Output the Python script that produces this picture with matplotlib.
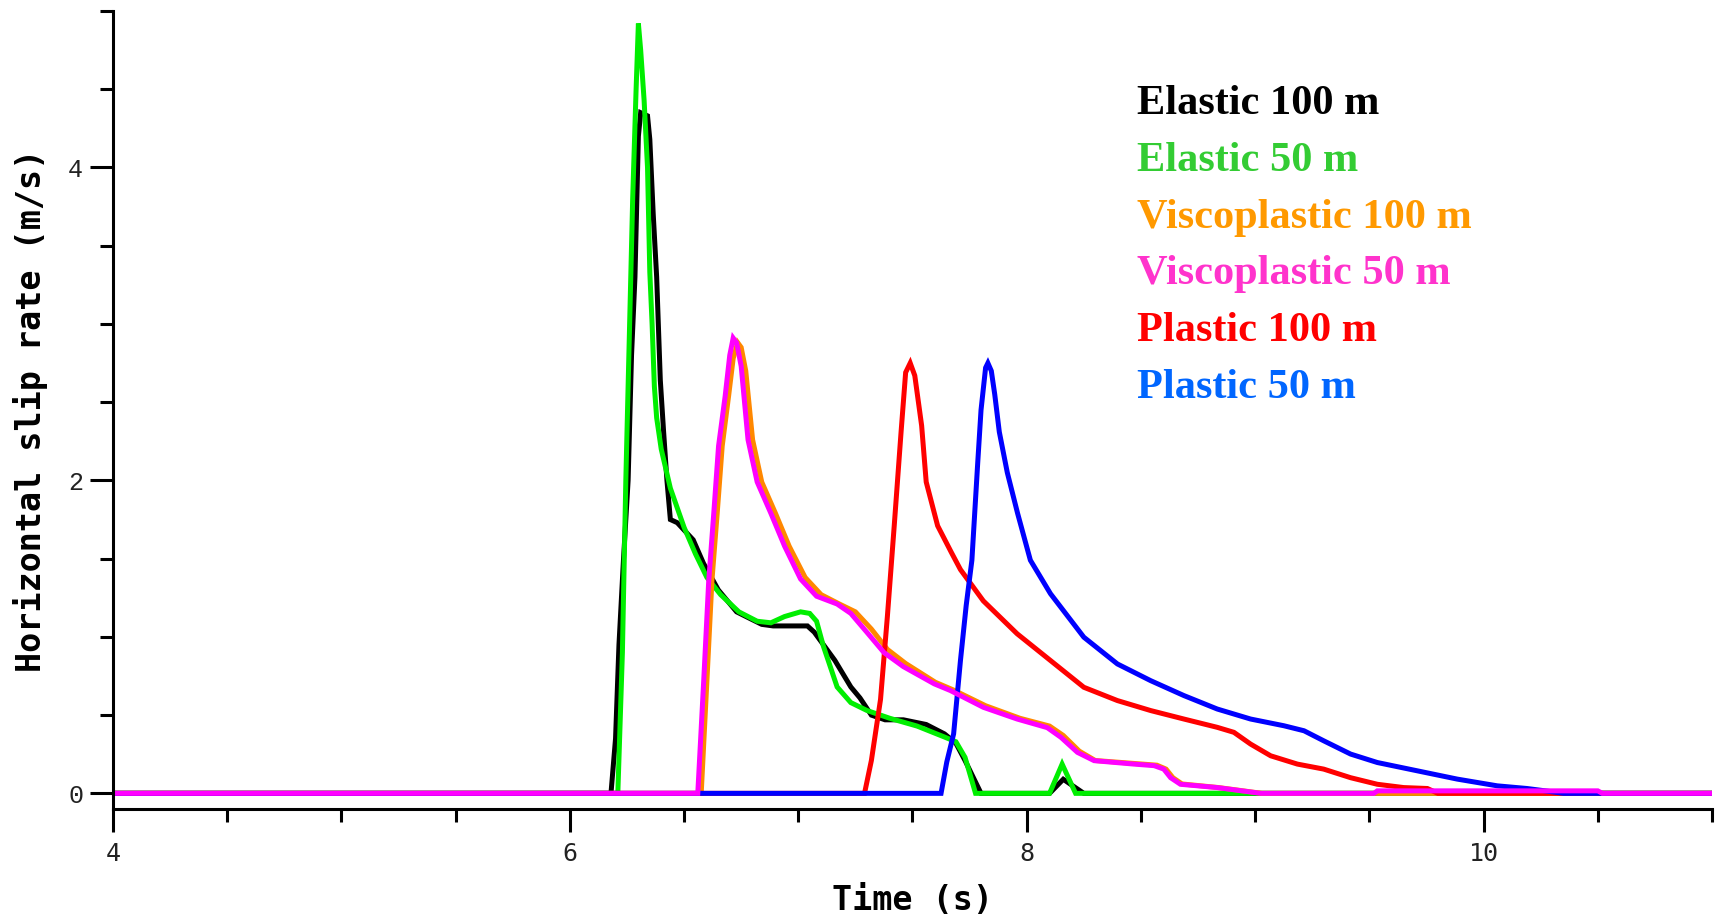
import matplotlib.pyplot as plt
from matplotlib.ticker import MultipleLocator

# slip-rate histories at the receiver, one (time, rate) pair per model
t_el100 = [4.0, 6.18, 6.20, 6.215, 6.235, 6.255, 6.27, 6.285, 6.30, 6.31, 6.34, 6.35, 6.365,
           6.38, 6.396, 6.41, 6.425, 6.44, 6.47, 6.54, 6.585, 6.65, 6.73, 6.84, 6.89, 7.04,
           7.07, 7.16, 7.23, 7.27, 7.32, 7.38, 7.46, 7.56, 7.64, 7.69, 7.73, 7.80, 8.10,
           8.16, 8.25, 11.0]
v_el100 = [0, 0, 0.35, 0.95, 1.5, 2.0, 2.8, 3.3, 4.2, 4.35, 4.33, 4.18, 3.7,
           3.3, 2.64, 2.32, 2.0, 1.75, 1.73, 1.62, 1.47, 1.30, 1.16, 1.08, 1.07, 1.07,
           1.03, 0.85, 0.68, 0.61, 0.50, 0.47, 0.47, 0.44, 0.38, 0.32, 0.21, 0, 0,
           0.09, 0, 0]

t_el50 = [4.0, 6.21, 6.23, 6.245, 6.26, 6.275, 6.29, 6.30, 6.31, 6.325, 6.34, 6.35, 6.36,
          6.37, 6.38, 6.40, 6.44, 6.50, 6.55, 6.60, 6.66, 6.74, 6.82, 6.88, 6.94, 7.01,
          7.05, 7.08, 7.11, 7.17, 7.23, 7.30, 7.40, 7.52, 7.64, 7.69, 7.73, 7.776, 8.10,
          8.155, 8.214, 11.0]
v_el50 = [0, 0, 0.9, 2.0, 2.9, 3.8, 4.5, 4.92, 4.75, 4.43, 4.0, 3.33, 3.0,
          2.6, 2.4, 2.2, 1.95, 1.70, 1.53, 1.38, 1.27, 1.16, 1.10, 1.09, 1.13, 1.16,
          1.15, 1.10, 0.94, 0.68, 0.58, 0.53, 0.48, 0.43, 0.36, 0.33, 0.23, 0, 0,
          0.187, 0, 0]

t_vp100 = [4.0, 6.575, 6.60, 6.622, 6.645, 6.667, 6.695, 6.715, 6.735, 6.75, 6.77, 6.80,
           6.84, 6.90, 6.96, 7.03, 7.10, 7.18, 7.25, 7.32, 7.39, 7.47, 7.60, 7.68, 7.82,
           7.97, 8.10, 8.16, 8.23, 8.30, 8.48, 8.57, 8.61, 8.64, 8.68, 8.84, 9.03, 11.0]
v_vp100 = [0, 0, 0.72, 1.36, 1.79, 2.22, 2.54, 2.78, 2.88, 2.85, 2.70, 2.26,
           1.99, 1.79, 1.58, 1.38, 1.27, 1.21, 1.16, 1.05, 0.92, 0.83, 0.71, 0.66, 0.56,
           0.48, 0.43, 0.37, 0.27, 0.21, 0.19, 0.18, 0.155, 0.10, 0.06, 0.037, 0, 0]

t_vp50 = [4.0, 6.56, 6.586, 6.608, 6.63, 6.651, 6.68, 6.70, 6.715, 6.73, 6.75, 6.78,
          6.82, 6.88, 6.94, 7.01, 7.08, 7.17, 7.23, 7.30, 7.375, 7.46, 7.595, 7.666, 7.81,
          7.958, 8.09, 8.15, 8.222, 8.295, 8.47, 8.558, 8.60, 8.63, 8.673, 8.834, 9.025,
          9.52, 9.535, 10.5, 10.52, 11.0]
v_vp50 = [0, 0, 0.72, 1.36, 1.79, 2.22, 2.54, 2.80, 2.91, 2.88, 2.73, 2.26,
          1.99, 1.79, 1.58, 1.37, 1.26, 1.21, 1.15, 1.03, 0.90, 0.81, 0.70, 0.657, 0.55,
          0.475, 0.42, 0.358, 0.262, 0.209, 0.187, 0.177, 0.155, 0.10, 0.058, 0.037, 0,
          0, 0.016, 0.016, 0, 0]

t_pl100 = [4.0, 7.29, 7.32, 7.36, 7.39, 7.42, 7.45, 7.47, 7.49, 7.51, 7.54, 7.56, 7.61,
           7.67, 7.71, 7.81, 7.958, 8.104, 8.25, 8.397, 8.543, 8.688, 8.834, 8.907, 8.98,
           9.068, 9.185, 9.30, 9.418, 9.535, 9.65, 9.754, 9.80, 11.0]
v_pl100 = [0, 0, 0.21, 0.60, 1.13, 1.71, 2.31, 2.69, 2.75, 2.67, 2.35, 1.99, 1.71,
           1.54, 1.43, 1.23, 1.02, 0.849, 0.678, 0.593, 0.529, 0.475, 0.422, 0.39, 0.315,
           0.24, 0.187, 0.155, 0.10, 0.058, 0.037, 0.031, 0, 0]

t_pl50 = [4.0, 7.625, 7.65, 7.68, 7.71, 7.735, 7.76, 7.785, 7.80, 7.82, 7.83, 7.845, 7.86,
          7.88, 7.915, 7.96, 8.016, 8.104, 8.25, 8.397, 8.543, 8.688, 8.834, 8.98, 9.126,
          9.214, 9.30, 9.418, 9.535, 9.71, 9.885, 10.06, 10.19, 10.27, 10.35, 11.0]
v_pl50 = [0, 0, 0.2, 0.38, 0.85, 1.2, 1.49, 2.1, 2.45, 2.72, 2.75, 2.70, 2.55,
          2.31, 2.05, 1.79, 1.49, 1.276, 0.998, 0.827, 0.72, 0.625, 0.539, 0.475, 0.432,
          0.40, 0.336, 0.251, 0.197, 0.144, 0.091, 0.048, 0.031, 0.016, 0, 0]

labels = ["Elastic 100 m", "Elastic 50 m", "Viscoplastic 100 m",
          "Viscoplastic 50 m", "Plastic 100 m", "Plastic 50 m"]
line_colors = ["#000000", "#00ee00", "#ff8800", "#ff00ff", "#ff0000", "#0000ff"]
text_colors = ["#000000", "#33cc33", "#ff9900", "#ff33cc", "#ff0000", "#0066ff"]

fig = plt.figure(figsize=(17.21, 9.18), dpi=100)
ax = fig.add_axes([113 / 1721, 1 - 809 / 918, 1599 / 1721, 798 / 918])

series = [(t_el100, v_el100), (t_el50, v_el50), (t_vp100, v_vp100),
          (t_vp50, v_vp50), (t_pl100, v_pl100), (t_pl50, v_pl50)]
# magenta last so it sits on top of the shared zero baseline
order = [0, 1, 2, 4, 5, 3]
for i in order:
    t, v = series[i]
    ax.plot(t, v, color=line_colors[i], lw=3.6, solid_joinstyle="miter")

ax.set_xlim(4, 11)
ax.set_ylim(-0.1, 5.0)
for s in ["top", "right"]:
    ax.spines[s].set_visible(False)
for s in ["left", "bottom"]:
    ax.spines[s].set_linewidth(2.2)

ax.xaxis.set_major_locator(MultipleLocator(2))
ax.xaxis.set_minor_locator(MultipleLocator(0.5))
ax.yaxis.set_major_locator(MultipleLocator(2))
ax.yaxis.set_minor_locator(MultipleLocator(0.5))
ax.tick_params(which="major", direction="out", length=16.5, width=2.2)
ax.tick_params(which="minor", direction="out", length=9.5, width=2.2)
ax.tick_params(axis="y", which="major", pad=5)
ax.tick_params(axis="x", which="major", pad=7)
for lab in ax.get_yticklabels():
    lab.set_fontfamily("Liberation Mono")
    lab.set_fontsize(18)
    lab.set_color("#222222")
for lab in ax.get_xticklabels():
    lab.set_fontfamily("DejaVu Sans Mono")
    lab.set_fontsize(18)
    lab.set_color("#222222")

ax.set_xlabel("Time (s)", fontfamily="DejaVu Sans Mono", fontsize=24,
              fontweight="bold", va="center")
ax.xaxis.set_label_coords(0.5, (809 - 900) / 798)
ax.set_ylabel("Horizontal slip rate (m/s)", fontfamily="DejaVu Sans Mono",
              fontsize=24, fontweight="bold", va="center")
ax.yaxis.set_label_coords((31 - 113) / 1599, 0.5)

for k, (lab, col) in enumerate(zip(labels, text_colors)):
    fig.text(1137 / 1721, 1 - (104.5 + 56.6 * k) / 918, lab, color=col,
             fontfamily="Liberation Serif", fontweight="bold", fontsize=30.5,
             ha="left", va="center")

fig.savefig("out.png", dpi=100)
